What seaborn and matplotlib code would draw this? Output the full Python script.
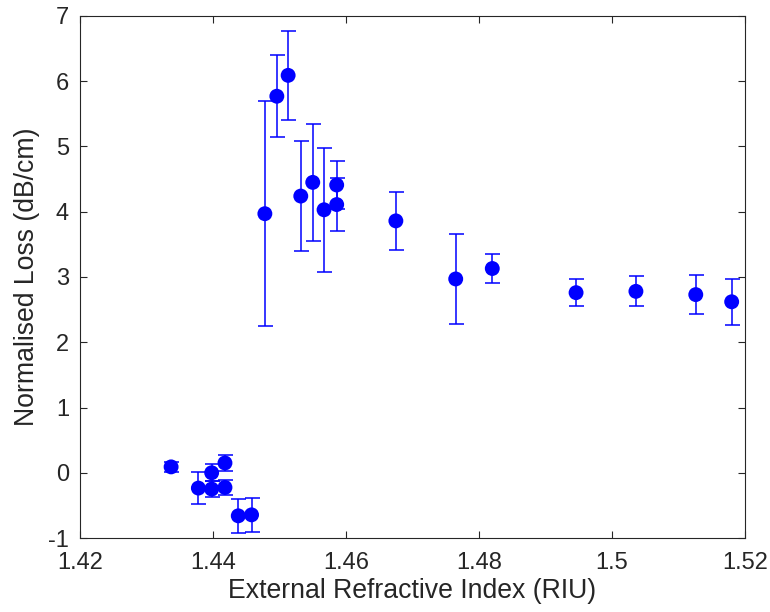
import numpy as np
import pandas as pd
import matplotlib
matplotlib.use('Agg')
import matplotlib.pyplot as plt
import seaborn as sns

# refractive index of the surrounding medium
ri = [1.4337, 1.4378, 1.4398, 1.4398, 1.4418, 1.4418, 1.4438, 1.4458,
      1.4478, 1.4496, 1.4513, 1.4532, 1.4550, 1.4567, 1.4586, 1.4586,
      1.4675, 1.4765, 1.4820, 1.4946, 1.5036, 1.5126, 1.5180]
# normalised loss in dB/cm
loss = [0.09, -0.235, 0.0, -0.25, 0.15, -0.225, -0.66, -0.645,
        3.97, 5.77, 6.09, 4.24, 4.45, 4.03, 4.41, 4.11,
        3.86, 2.97, 3.13, 2.76, 2.78, 2.73, 2.62]
loss_err = [0.08, 0.24, 0.13, 0.12, 0.12, 0.12, 0.26, 0.26,
            1.72, 0.63, 0.68, 0.84, 0.90, 0.95, 0.37, 0.41,
            0.44, 0.69, 0.22, 0.21, 0.23, 0.30, 0.35]

xticks = [1.42, 1.44, 1.46, 1.48, 1.5, 1.52]
xtick_labels = ['1.42', '1.44', '1.46', '1.48', '1.5', '1.52']

df = pd.DataFrame({'ri': ri, 'loss': loss, 'err': loss_err})

sns.set_style('ticks')
plt.rcParams['font.family'] = ['Liberation Sans', 'DejaVu Sans']
plt.rcParams['axes.unicode_minus'] = False

axcol = '#262626'
fig = plt.figure(figsize=(7.7, 6.12), dpi=100)
ax = fig.add_axes([0.1039, 0.1209, 0.8636, 0.853])

ax.errorbar(df['ri'], df['loss'], yerr=df['err'], fmt='none', ecolor='#0000ff',
            elinewidth=1.1, capsize=5.4, capthick=1.1, zorder=2)
sns.scatterplot(data=df, x='ri', y='loss', ax=ax, color='#0000ff', s=115,
                edgecolor='none', linewidth=0, zorder=3)

ax.set_xlim(1.42, 1.52)
ax.set_ylim(-1, 7)
ax.set_xticks(xticks)
ax.set_xticklabels(xtick_labels)
ax.set_yticks(range(-1, 8))
ax.tick_params(direction='in', top=True, right=True, length=5, width=0.8,
               labelsize=17, colors=axcol)
ax.tick_params(axis='x', pad=10)
ax.tick_params(axis='y', pad=8)
for s in ax.spines.values():
    s.set_visible(True)
    s.set_color(axcol)
    s.set_linewidth(0.8)

ax.set_xlabel('External Refractive Index (RIU)', fontsize=19.2, color=axcol, labelpad=3)
ax.set_ylabel('Normalised Loss (dB/cm)', fontsize=19.2, color=axcol, labelpad=6)

fig.savefig('out.png', dpi=100)
